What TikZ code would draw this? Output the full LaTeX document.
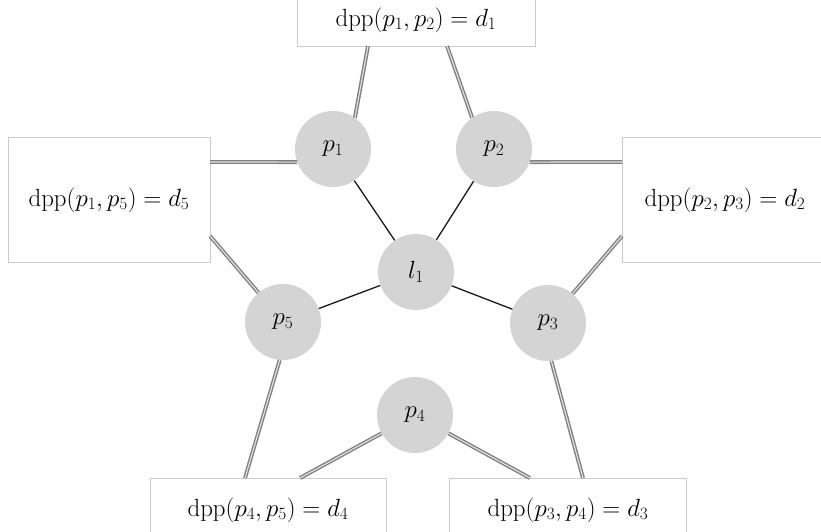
\documentclass[tikz,border=0pt]{standalone}
\usepackage{amsmath}
\begin{document}
\begin{tikzpicture}[x=1pt,y=-1pt,
  font=\fontsize{26}{30}\selectfont,
  peer/.style={circle,fill=black!17,minimum size=76pt,inner sep=0pt},
  dbox/.style={draw=black!20,line width=0.6pt,inner sep=0pt},
  link/.style={draw=black!50,line width=1.4pt,double=white!90!black,double distance=1.1pt},
  tie/.style={draw=black!90,line width=1.3pt}]
\clip (0,0) rectangle (821,532);

% distance boxes
\node[dbox,minimum width=238pt,minimum height=52pt] (b12) at (416,20) {$\mathrm{dpp}(p_1, p_2) = d_1$};
\node[dbox,minimum width=202pt,minimum height=125pt] (b15) at (109,200) {$\mathrm{dpp}(p_1, p_5) = d_5$};
\node[dbox,minimum width=206pt,minimum height=125pt] (b23) at (725,200) {$\mathrm{dpp}(p_2, p_3) = d_2$};
\node[dbox,minimum width=236pt,minimum height=64pt] (b45) at (268,510) {$\mathrm{dpp}(p_4, p_5) = d_4$};
\node[dbox,minimum width=237pt,minimum height=64pt] (b34) at (568,510) {$\mathrm{dpp}(p_3, p_4) = d_3$};

% peers
\node[peer] (l1) at (416,272) {$l_1$};
\node[peer] (p1) at (333,149) {$p_1$};
\node[peer] (p2) at (494,149) {$p_2$};
\node[peer] (p3) at (548,323) {$p_3$};
\node[peer] (p4) at (415,415) {$p_4$};
\node[peer] (p5) at (283,322) {$p_5$};

% ends of the links on the boxes
\coordinate (e1a) at (368,46);
\coordinate (e1b) at (447,46);
\coordinate (e2a) at (622,162);
\coordinate (e2b) at (622,236);
\coordinate (e3a) at (583,478);
\coordinate (e3b) at (530,478);
\coordinate (e4a) at (300,478);
\coordinate (e4b) at (245,478);
\coordinate (e5a) at (210,236);
\coordinate (e5b) at (210,162);

\draw[link] (p1.55) -- (e1a);
\draw[link] (p2.125) -- (e1b);
\draw[link] (p2.-20) -- (e2a);
\draw[link] (p3.50) -- (e2b);
\draw[link] (p3.-85) -- (e3a);
\draw[link] (p4) -- (e3b);
\draw[link] (p4) -- (e4a);
\draw[link] (p5.-95) -- (e4b);
\draw[link] (p5.130) -- (e5a);
\draw[link] (p1.200) -- (e5b);

\path[tie]
(l1) edge (p1)
(l1) edge (p2)
(l1) edge (p3)
(l1) edge (p5);
\end{tikzpicture}
\end{document}
